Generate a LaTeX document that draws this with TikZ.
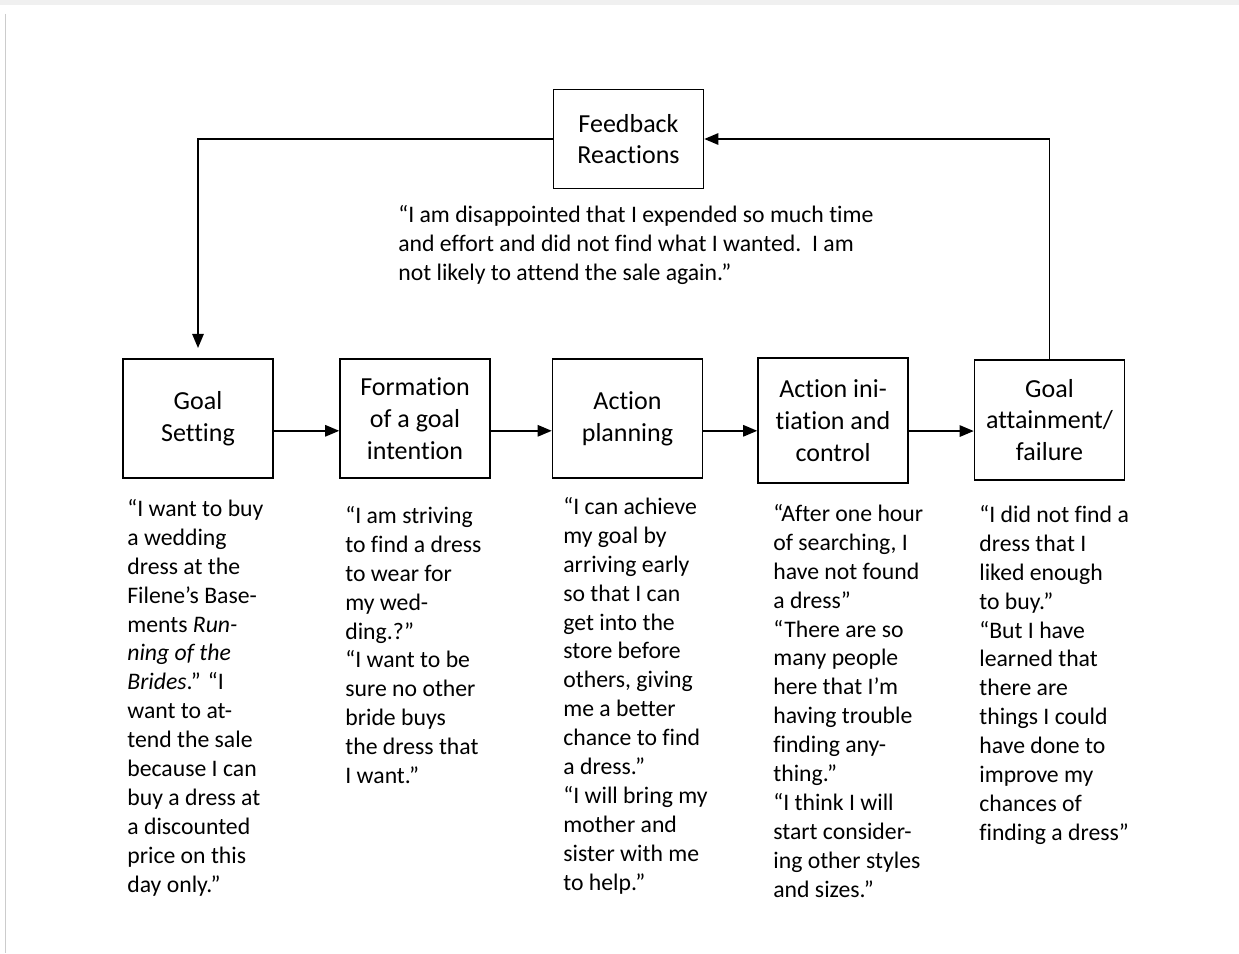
\documentclass[tikz,border=0pt]{standalone}
\usepackage{fontspec}
\setmainfont{Carlito}[Ligatures=NoCommon]
\usetikzlibrary{arrows.meta}

\begin{document}
\begin{tikzpicture}[x=0.02cm,y=-0.02cm,
  stagebox/.style={draw, line width=0.9pt, minimum width=3cm, minimum height=2.38cm,
    align=center, inner sep=2pt, font=\fontsize{14.8}{18.1}\selectfont},
  quote/.style={anchor=north west, inner sep=0pt, align=left,
    font=\fontsize{13.5}{16.45}\selectfont},
  flow/.style={line width=0.9pt, -{Triangle[length=8pt,width=6.5pt]}}]

\useasboundingbox (0,0) rectangle (1239,953);
\fill[gray!12] (0,0) rectangle (1239,5);
\draw[gray!40, line width=0.4pt] (5,14) -- (5,953);

\node(fb)[stagebox, minimum height=1.98cm] at (628.5,139) {Feedback\\Reactions};

\node(gs)[stagebox] at (198,418.5) {Goal\\Setting};
\node(form)[stagebox] at (415,418.5) {Formation\\of a goal\\intention};
\node(plan)[stagebox] at (627.5,418.5) {Action\\planning};
\node(init)[stagebox, minimum height=2.5cm] at (833,420.5) {Action ini-\\tiation and\\control};
\node(goal)[stagebox, minimum height=2.4cm] at (1049.5,420) {Goal\\attainment/\\failure};

\coordinate(gsin) at (198,348);

\draw[flow] ([yshift=-7pt]gs.east) -- ([yshift=-7pt]gs.east -| form.west);
\draw[flow] ([yshift=-7pt]form.east) -- ([yshift=-7pt]form.east -| plan.west);
\draw[flow] ([yshift=-7pt]plan.east) -- ([yshift=-7pt]plan.east -| init.west);
\draw[flow] ([yshift=-6pt]init.east) -- ([yshift=-6pt]init.east -| goal.west);

\draw[flow] (goal.north) |- (fb.east);
\draw[flow] (fb.west) -| (gsin);

\node(fbtext)[quote] at (398,205) {“I am disappointed that I expended so much time\\and effort and did not find what I wanted.\ \ I am\\not likely to attend the sale again.”};

\node(gstext)[quote] at (127,499) {“I want to buy\\a wedding\\dress at the\\Filene’s Base-\\ments \textit{Run-}\\\textit{ning of the}\\\textit{Brides}.” “I\\want to at-\\tend the sale\\because I can\\buy a dress at\\a discounted\\price on this\\day only.”};

\node(formtext)[quote] at (345,506) {“I am striving\\to find a dress\\to wear for\\my wed-\\ding.?”\\“I want to be\\sure no other\\bride buys\\the dress that\\I want.”};

\node(plantext)[quote] at (563,497) {“I can achieve\\my goal by\\arriving early\\so that I can\\get into the\\store before\\others, giving\\me a better\\chance to find\\a dress.”\\“I will bring my\\mother and\\sister with me\\to help.”};

\node(inittext)[quote] at (773,504) {“After one hour\\of searching, I\\have not found\\a dress”\\“There are so\\many people\\here that I’m\\having trouble\\finding any-\\thing.”\\“I think I will\\start consider-\\ing other styles\\and sizes.”};

\node(goaltext)[quote] at (979,505) {“I did not find a\\dress that I\\liked enough\\to buy.”\\“But I have\\learned that\\there are\\things I could\\have done to\\improve my\\chances of\\finding a dress”};

\end{tikzpicture}
\end{document}
